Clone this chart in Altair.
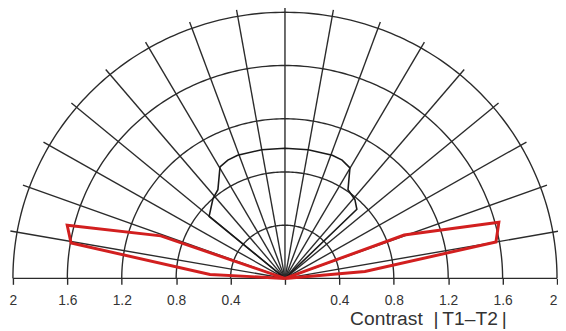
import altair as alt
import numpy as np
import pandas as pd

# ---- data ----
ring_radii = [0.4, 0.8, 1.2, 1.6, 2.0]
spoke_angles = [10, 20, 30, 40, 50, 60, 70, 80, 90, 100, 110, 120, 130, 140, 150, 160, 170]
spoke_length = 2.05
tick_values = [-2.0, -1.6, -1.2, -0.8, -0.4, 0.0, 0.4, 0.8, 1.2, 1.6, 2.0]

# black threshold curve (angle in degrees, contrast radius)
threshold_angle = [140.1, 140.1, 131.4, 126.5, 119.7, 115.3, 110.6, 100, 90, 80,
                   69.4, 64.7, 60.1, 55.2, 49.1, 44.5, 44.5]
threshold_contrast = [0.0, 0.727, 0.800, 0.829, 0.964, 0.983, 0.989, 0.982, 0.978, 0.982,
                      0.989, 0.983, 0.958, 0.812, 0.785, 0.741, 0.0]

# red polygons
right_angle = [0, 20.4, 15.0, 10.0, 5.1, 0]
right_contrast = [0.0, 0.935, 1.628, 1.575, 0.590, 0.0]
left_angle = [180, 160.7, 166.0, 170.4, 176.9, 180]
left_contrast = [0.0, 0.967, 1.650, 1.595, 0.552, 0.0]

# ---- tables ----
grid_rows = []
for rad in ring_radii:
    for i, a in enumerate(np.arange(0, 181, 1)):
        grid_rows.append({"g": f"ring{rad}", "a": float(a), "r": rad, "o": i})
for a in spoke_angles:
    grid_rows.append({"g": f"spoke{a}", "a": a, "r": 0.0, "o": 0})
    grid_rows.append({"g": f"spoke{a}", "a": a, "r": spoke_length, "o": 1})
grid_df = pd.DataFrame(grid_rows)

thr_df = pd.DataFrame({"a": threshold_angle, "r": threshold_contrast,
                       "o": list(range(len(threshold_angle)))})
red_df = pd.concat([
    pd.DataFrame({"g": "right", "a": right_angle, "r": right_contrast, "o": range(len(right_angle))}),
    pd.DataFrame({"g": "left", "a": left_angle, "r": left_contrast, "o": range(len(left_angle))}),
])
base_df = pd.DataFrame({"x": [-2.0], "x2": [2.0], "y": [0.0]})

GRID = "#2b2b2b"
RED = "#d21f1f"
FONT = "Liberation Sans"

xscale = alt.Scale(domain=[-2.03623, 2.00725], nice=False, zero=False)
yscale = alt.Scale(domain=[0, 2.01481], nice=False, zero=False)

calc = dict(x="datum.r*cos(datum.a*PI/180)", y="datum.r*sin(datum.a*PI/180)")

xaxis = alt.Axis(
    values=tick_values,
    labelExpr="datum.value == 0 ? '' : format(abs(datum.value), '.1~f')",
    labelAlign={"condition": {"test": "datum.value >= 2", "value": "right"}, "value": "center"},
    domain=False, grid=False, ticks=True, tickSize=6, tickColor=GRID, tickWidth=1.4,
    labelFont=FONT, labelFontSize=14, labelColor="#333333", labelPadding=9,
    labelOverlap=False, labelFlush=False, labelBound=False,
    title="Contrast\u00a0 |\u2009T1\u2013T2\u2009|", titleFont=FONT, titleFontSize=19.5,
    titleFontWeight="normal", titleColor="#333333", titleX=426, titleY=47,
    titleAlign="center", titleBaseline="alphabetic",
)

grid = alt.Chart(grid_df).transform_calculate(**calc).mark_line(
    color=GRID, strokeWidth=1.4
).encode(
    x=alt.X("x:Q", scale=xscale, axis=xaxis),
    y=alt.Y("y:Q", scale=yscale, axis=None),
    detail="g:N", order="o:Q",
)

baseline = alt.Chart(base_df).mark_rule(color=GRID, strokeWidth=1.4).encode(
    x=alt.X("x:Q", scale=xscale), x2="x2:Q", y=alt.Y("y:Q", scale=yscale)
)

thr = alt.Chart(thr_df).transform_calculate(**calc).mark_line(
    color="#1a1a1a", strokeWidth=1.6
).encode(
    x=alt.X("x:Q", scale=xscale), y=alt.Y("y:Q", scale=yscale), order="o:Q"
)

red = alt.Chart(red_df).transform_calculate(**calc).mark_line(
    color=RED, strokeWidth=3, strokeJoin="miter"
).encode(
    x=alt.X("x:Q", scale=xscale), y=alt.Y("y:Q", scale=yscale),
    detail="g:N", order="o:Q",
)

chart = alt.layer(grid, baseline, thr, red).properties(
    width=558, height=272,
    padding={"left": 0, "right": 0, "top": 0, "bottom": 51},
    autosize=alt.AutoSizeParams(type="none"),
    background="white",
).configure_view(stroke=None)

chart.save("out.html", embed_options={"renderer": "svg", "actions": False})
